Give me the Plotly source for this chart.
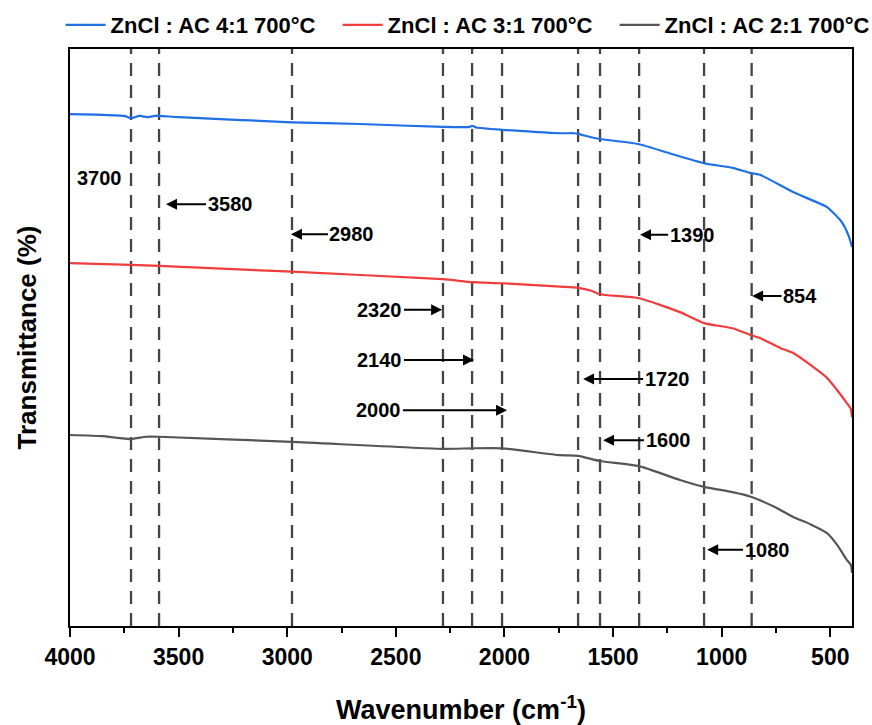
import plotly.graph_objects as go

# ---- data ----
blue_x = [4000, 3850, 3750, 3719, 3680, 3640, 3610, 3590, 3500, 2978, 2665, 2283, 2160, 2149, 2130, 2011,
          1744, 1680, 1661, 1600, 1560, 1380, 1238, 1081, 950, 865, 823, 671, 515, 455, 430, 409, 400]
blue_y = [88.7, 88.6, 88.4, 88.0, 88.4, 88.2, 88.4, 88.4, 88.2, 87.3, 87.0, 86.5, 86.5, 86.7, 86.4, 86.0,
          85.4, 85.4, 85.3, 84.7, 84.4, 83.5, 81.9, 80.2, 79.4, 78.5, 78.2, 75.2, 72.6, 70.4, 68.9, 66.9, 65.7]

red_x = [4000, 3719, 3590, 2978, 2283, 2149, 2011, 1744, 1661, 1600, 1560, 1380, 1192, 1081, 950, 865,
         823, 731, 671, 579, 515, 469, 423, 405, 400]
red_y = [62.9, 62.6, 62.4, 61.4, 60.1, 59.6, 59.4, 58.8, 58.6, 58.1, 57.5, 56.8, 54.4, 52.5, 51.6, 50.4,
         49.9, 48.2, 47.3, 44.9, 43.0, 40.9, 38.6, 37.6, 36.2]

gray_x = [4000, 3850, 3719, 3650, 3590, 2978, 2283, 2149, 2011, 1744, 1661, 1560, 1380, 1192, 1081, 950,
          865, 760, 671, 590, 515, 465, 423, 405, 400]
gray_y = [33.1, 32.9, 32.4, 32.8, 32.8, 31.9, 30.7, 30.8, 30.8, 29.6, 29.5, 28.6, 27.7, 25.3, 24.1, 23.2,
          22.4, 20.7, 18.9, 17.6, 16.1, 13.9, 11.4, 10.6, 9.2]

series_names = ["ZnCl : AC 4:1 700°C", "ZnCl : AC 3:1 700°C", "ZnCl : AC 2:1 700°C"]
series_colors = ["#1f6fe5", "#f03c3c", "#555555"]

peak_lines = [3719, 3590, 2978, 2283, 2149, 2011, 1661, 1560, 1380, 1081, 862]

# label text, arrow tip wavenumber, label wavenumber, label height
peak_labels = ["3700", "3580", "2980", "1390", "854", "2320", "2140", "2000", "1720", "1600", "1080"]
tip_x = [None, 3558, 2983, 1376, 860, 2287, 2140, 1988, 1638, 1546, 1067]
text_x = [3862, 3263, 2702, 1136, 639, 2573, 2573, 2578, 1251, 1247, 791]
text_y = [77.6, 73.1, 67.9, 67.8, 57.2, 54.8, 46.1, 37.4, 42.8, 32.2, 13.2]

x_ticks = [4000, 3500, 3000, 2500, 2000, 1500, 1000, 500]
x_minor = [3750, 3250, 2750, 2250, 1750, 1250, 750]

FONT = "Arial, Liberation Sans, sans-serif"

fig = go.Figure()
for xs, ys, name, col in zip([blue_x, red_x, gray_x], [blue_y, red_y, gray_y], series_names, series_colors):
    fig.add_trace(go.Scatter(x=xs, y=ys, mode="lines", name="<b>%s</b>" % name,
                             line=dict(color=col, width=2.2, shape="spline", smoothing=0.5)))

for px in peak_lines:
    fig.add_shape(type="line", xref="x", yref="paper", x0=px, x1=px, y0=0, y1=1,
                  line=dict(color="#444444", width=2.3, dash="13px,9px"), layer="below")

for lab, tx, lx, ly in zip(peak_labels, tip_x, text_x, text_y):
    if tx is None:
        fig.add_annotation(x=lx, y=ly, xref="x", yref="y", text="<b>%s</b>" % lab, showarrow=False,
                           font=dict(family=FONT, size=20, color="black"))
    else:
        fig.add_annotation(x=tx, y=ly, ax=lx, ay=ly, xref="x", yref="y", axref="x", ayref="y",
                           text="<b>%s</b>" % lab, showarrow=True, arrowhead=2, arrowsize=1.1,
                           arrowwidth=2, arrowcolor="black", standoff=0, startstandoff=0,
                           font=dict(family=FONT, size=20, color="black"))

fig.update_layout(
    width=872, height=725,
    margin=dict(l=70, r=20, t=49, b=99, autoexpand=False),
    paper_bgcolor="white", plot_bgcolor="white",
    font=dict(family=FONT, color="black"),
    showlegend=True,
    legend=dict(orientation="h", xref="paper", x=-0.012, xanchor="left",
                yref="paper", y=1.0416, yanchor="middle",
                font=dict(family=FONT, size=22, color="black"),
                entrywidth=222, itemwidth=40, tracegroupgap=0, bgcolor="rgba(0,0,0,0)"),
)
fig.update_xaxes(range=[4000, 400], tickmode="array", tickvals=x_ticks,
                 ticktext=["<b>%d</b>" % v for v in x_ticks],
                 tickfont=dict(family=FONT, size=23, color="black"),
                 showline=True, linecolor="black", linewidth=2, mirror=True,
                 ticks="outside", ticklen=9, tickwidth=2, tickcolor="black",
                 minor=dict(tickvals=x_minor, ticks="outside",
                            ticklen=5, tickwidth=2, tickcolor="black"),
                 showgrid=False, zeroline=False,
                 title=dict(text="<b>Wavenumber (cm<sup>-1</sup>)</b>",
                            font=dict(family=FONT, size=27, color="black"), standoff=34))
fig.update_yaxes(range=[0, 100], showticklabels=False, ticks="",
                 showline=True, linecolor="black", linewidth=2, mirror=True,
                 showgrid=False, zeroline=False,
                 title=dict(text="<b>Transmittance (%)</b>",
                            font=dict(family=FONT, size=26, color="black"), standoff=24))

fig.write_html("out.html")
